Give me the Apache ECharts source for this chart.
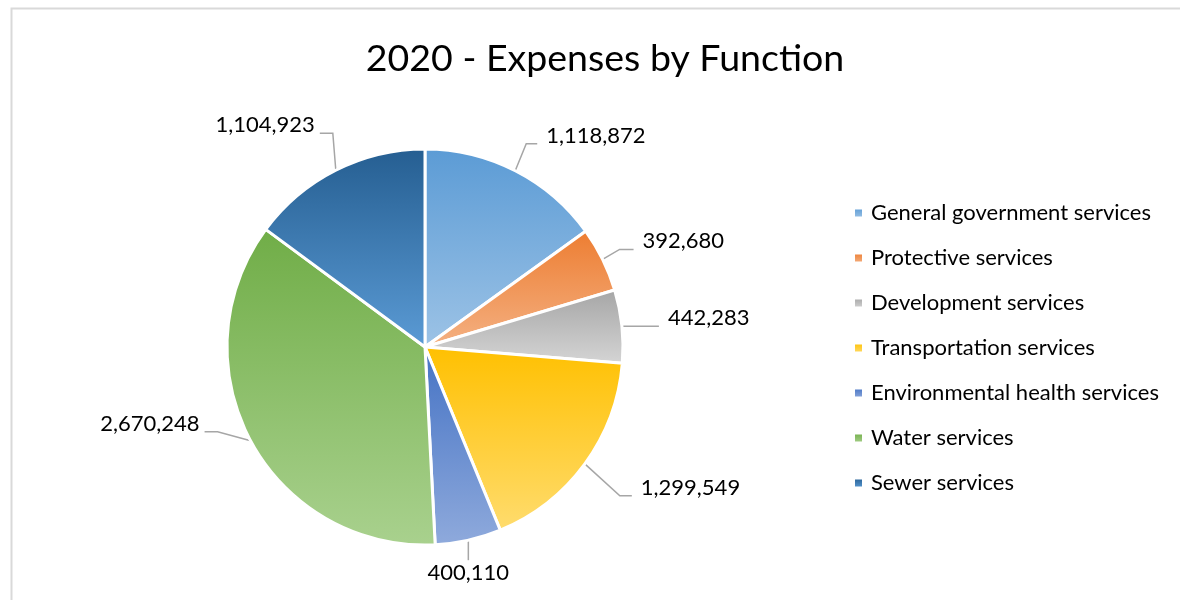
<!DOCTYPE html>
<html>
<head>
<meta charset="utf-8">
<script src="https://cdn.jsdelivr.net/npm/echarts@6/dist/echarts.min.js"></script>
<style>
  html, body { margin: 0; padding: 0; background: #fff; }
  #chart { width: 1180px; height: 600px; }
</style>
</head>
<body>
<div id="chart"></div>
<script>
// Expense categories and their 2020 totals
const categories = [
  'General government services',
  'Protective services',
  'Development services',
  'Transportation services',
  'Environmental health services',
  'Water services',
  'Sewer services'
];
const expenses = [1118872, 392680, 442283, 1299549, 400110, 2670248, 1104923];

// Slice gradients: darker shade at the top, lighter at the bottom
const topColors    = ['#5b9bd5', '#ed7d31', '#a5a5a5', '#ffc000', '#4472c4', '#70ad47', '#255e91'];
const bottomColors = ['#9dc3e6', '#f4b183', '#d5d5d5', '#ffdc6e', '#8faadc', '#a9d18e', '#5b9bd5'];

// Leader line shape per slice: elbow offset from the slice edge [dx, dy] and horizontal tail
// (tail 0 = label sits straight below the elbow)
const leaderElbow = [[11, -27], [17, -10], [8, 0], [35, 32], [0, 20], [-33, -9], [-3, -37]];
const leaderTail  = [11, 14, 29, 12, 0, -13, -13];

const fontFamily = 'Lato, "Open Sans", sans-serif';

function grad(i) {
  return new echarts.graphic.LinearGradient(0, 0, 0, 1, [
    { offset: 0, color: topColors[i] },
    { offset: 1, color: bottomColors[i] }
  ]);
}

const chart = echarts.init(document.getElementById('chart'), null, { renderer: 'canvas' });

chart.setOption({
  backgroundColor: '#ffffff',
  animation: false,
  title: {
    text: '2020 - Expenses by Function',
    left: 600,
    textAlign: 'center',
    top: 35,
    textStyle: { fontFamily, fontSize: 37.5, fontWeight: 'normal', color: '#000000' }
  },
  graphic: [{
    type: 'rect',
    shape: { x: 11.5, y: 8.5, width: 1300, height: 800 },
    style: { fill: 'none', stroke: '#d9d9d9', lineWidth: 2 },
    silent: true,
    z: -1
  }],
  legend: {
    orient: 'vertical',
    left: 853,
    top: 202,
    padding: 0,
    itemWidth: 9,
    itemHeight: 9,
    itemGap: 23,
    icon: 'rect',
    textStyle: { fontFamily, fontSize: 22, color: '#000000', lineHeight: 22, padding: [0, 0, 0, 3] },
    data: categories
  },
  series: [{
    type: 'pie',
    center: [425, 347],
    radius: [0, 198],
    startAngle: 90,
    clockwise: true,
    avoidLabelOverlap: false,
    itemStyle: { borderColor: '#ffffff', borderWidth: 3 },
    label: {
      show: true,
      formatter: p => p.value.toLocaleString('en-US'),
      fontFamily,
      fontSize: 22,
      color: '#000000'
    },
    labelLine: {
      show: true,
      length: 10,
      length2: 10,
      lineStyle: { color: '#a6a6a6', width: 1.5 }
    },
    // Re-route each leader from the library's edge point: elbow, then a short horizontal tail
    labelLayout: params => {
      const i = params.dataIndex;
      const p0 = params.labelLinePoints[0];
      const elbow = [p0[0] + leaderElbow[i][0], p0[1] + leaderElbow[i][1]];
      const tail = leaderTail[i];
      const end = [elbow[0] + tail, elbow[1]];
      if (tail === 0) {
        return {
          x: end[0], y: end[1] + 13,
          align: 'center', verticalAlign: 'middle',
          labelLinePoints: [p0, elbow, end]
        };
      }
      const right = tail > 0;
      return {
        x: end[0] + (right ? 9 : -5),
        y: end[1] - 8,
        align: right ? 'left' : 'right',
        verticalAlign: 'middle',
        labelLinePoints: [p0, elbow, end]
      };
    },
    emphasis: { disabled: true },
    data: categories.map((name, i) => ({
      name,
      value: expenses[i],
      itemStyle: { color: grad(i) }
    }))
  }]
});
</script>
</body>
</html>
